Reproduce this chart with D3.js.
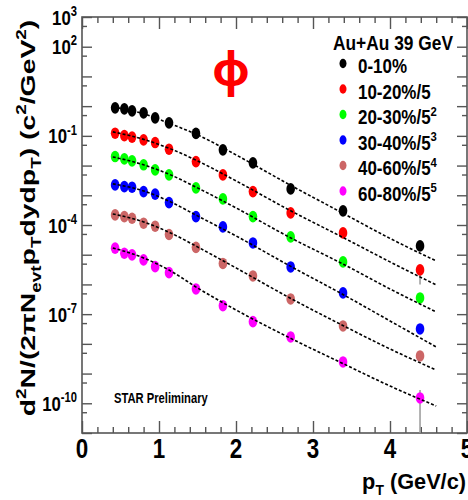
<!DOCTYPE html>
<html><head><meta charset="utf-8">
<script src="https://cdn.jsdelivr.net/npm/d3@7"></script>
<style>body{margin:0;background:#fff} svg{display:block}</style>
</head><body>
<svg id="c" width="468" height="500"></svg>
<script>
// ---- data ----
const pT = [0.43, 0.55, 0.65, 0.80, 0.95, 1.13, 1.48, 1.83, 2.22, 2.71, 3.39, 4.39];
const cent0_10  = [0.877, 0.811, 0.695, 0.594, 0.404, 0.274, 0.121, 0.0338, 0.0123, 1.64e-3, 2.99e-4, 1.98e-5];
const cent10_20 = [0.123, 0.102, 0.0904, 0.0733, 0.0596, 0.0356, 0.0136, 4.86e-3, 1.33e-3, 2.55e-4, 5.42e-5, 3.08e-6];
const cent20_30 = [0.0201, 0.0168, 0.0144, 0.0106, 7.16e-3, 4.86e-3, 1.77e-3, 7.57e-4, 1.92e-4, 3.98e-5, 5.73e-6, 3.51e-7];
const cent30_40 = [2.24e-3, 1.96e-3, 1.87e-3, 1.33e-3, 1.09e-3, 5.68e-4, 1.92e-4, 8.63e-5, 2.49e-5, 3.88e-6, 5.18e-7, 3.18e-8];
const cent40_60 = [2.19e-4, 1.92e-4, 1.69e-4, 1.15e-4, 9.12e-5, 4.79e-5, 1.76e-5, 5.09e-6, 1.93e-6, 3.25e-7, 4.01e-8, 3.92e-9];
const cent60_80 = [1.66e-5, 1.12e-5, 9.84e-6, 6.68e-6, 3.97e-6, 2.49e-6, 7.05e-7, 1.92e-7, 5.58e-8, 1.71e-8, 2.46e-9, 1.51e-10];

// error bars (series index, point index, low, high)
const errSeries = [1, 5, 2];
const errPoint  = [11, 11, 10];
const errLow    = [1.0e-6, 1e-12, 4.0e-6];
const errHigh   = [3.5e-6, 2.8e-10, 6.0e-6];

// fit curves (dashed), log10 of value at fitPt
const fitPt = [0.4, 0.8, 1.15, 1.5, 2.0, 2.7, 3.4, 4.0, 4.6];
const fitExp0_10  = [-0.024, -0.259, -0.596, -0.966, -1.640, -2.650, -3.620, -4.451, -5.209];
const fitExp10_20 = [-0.865, -1.118, -1.438, -1.842, -2.515, -3.508, -4.434, -5.242, -6.017];
const fitExp20_30 = [-1.707, -1.976, -2.313, -2.751, -3.424, -4.418, -5.327, -6.152, -6.926];
const fitExp30_40 = [-2.616, -2.852, -3.222, -3.694, -4.367, -5.377, -6.354, -7.229, -8.104];
const fitExp40_60 = [-3.626, -3.896, -4.266, -4.737, -5.444, -6.455, -7.397, -8.172, -8.879];
const fitExp60_80 = [-4.771, -5.108, -5.545, -6.118, -6.859, -7.801, -8.677, -9.418, -10.091];

const legendLabels = ["0-10%", "10-20%/5", "20-30%/5", "30-40%/5", "40-60%/5", "60-80%/5"];
const legendExps   = ["", "", "2", "3", "4", "5"];
const colors = ["#000000", "#ff0000", "#00ff00", "#0000ff", "#cc6666", "#ff00ff"];

const xTicksMajor = [0, 1, 2, 3, 4, 5];
const xTickLabels = ["0", "1", "2", "3", "4", "5"];
const yTickLabelExps = [3, 2, -1, -4, -7, -10];

// ---- chart ----
const series = [cent0_10, cent10_20, cent20_30, cent30_40, cent40_60, cent60_80];
const fits = [fitExp0_10, fitExp10_20, fitExp20_30, fitExp30_40, fitExp40_60, fitExp60_80];

const FONT = '"Liberation Sans", Arial, Helvetica, sans-serif';
const svg = d3.select("#c");
const L = 82, R = 467, T = 17, B = 433;
const x = d3.scaleLinear().domain([0, 5]).range([L, R]);
const y = d3.scaleLog().domain([1e-11, 1e3]).range([B, T]);

svg.append("defs").append("clipPath").attr("id", "plotclip")
  .append("rect").attr("x", L).attr("y", T).attr("width", R - L).attr("height", B - T);

// ticks
const xMinor = d3.range(0, 5.001, 0.2).filter(v => Math.abs(v - Math.round(v)) > 1e-6);
const yMajor = d3.range(-11, 4).map(e => Math.pow(10, e));
const yMinor = d3.range(-11, 3).map(e => 5 * Math.pow(10, e));
const axisColor = "#555";

function styleAxis(g) {
  g.select(".domain").remove();
  g.selectAll("line").attr("stroke", axisColor).attr("stroke-width", 1.4);
}
svg.append("g").attr("transform", `translate(0,${B})`)
  .call(d3.axisBottom(x).tickValues(xTicksMajor).tickSize(-12).tickFormat("")).call(styleAxis);
svg.append("g").attr("transform", `translate(0,${B})`)
  .call(d3.axisBottom(x).tickValues(xMinor).tickSize(-6).tickFormat("")).call(styleAxis);
svg.append("g").attr("transform", `translate(0,${T})`)
  .call(d3.axisTop(x).tickValues(xTicksMajor).tickSize(-12).tickFormat("")).call(styleAxis);
svg.append("g").attr("transform", `translate(0,${T})`)
  .call(d3.axisTop(x).tickValues(xMinor).tickSize(-6).tickFormat("")).call(styleAxis);
svg.append("g").attr("transform", `translate(${L},0)`)
  .call(d3.axisLeft(y).tickValues(yMajor).tickSize(-10).tickFormat("")).call(styleAxis);
svg.append("g").attr("transform", `translate(${L},0)`)
  .call(d3.axisLeft(y).tickValues(yMinor).tickSize(-5).tickFormat("")).call(styleAxis);
svg.append("g").attr("transform", `translate(${R},0)`)
  .call(d3.axisRight(y).tickValues(yMajor).tickSize(-10).tickFormat("")).call(styleAxis);
svg.append("g").attr("transform", `translate(${R},0)`)
  .call(d3.axisRight(y).tickValues(yMinor).tickSize(-5).tickFormat("")).call(styleAxis);

// frame
svg.append("rect").attr("x", L).attr("y", T).attr("width", R - L).attr("height", B - T)
  .attr("fill", "none").attr("stroke", axisColor).attr("stroke-width", 1.6);

// rich text helper
function rich(textSel, segs, base, small) {
  let shift = 0;
  segs.forEach(([t, kind]) => {
    const target = kind === "sup" ? -0.42 * base : kind === "sub" ? 0.28 * base : 0;
    textSel.append("tspan").attr("dy", target - shift)
      .attr("font-size", kind ? small : base).text(t);
    shift = target;
  });
}
function scaledText(px, py, anchor, size, targetW, extraTransform) {
  const g = svg.append("g");
  const t = g.append("text").attr("text-anchor", anchor).attr("font-family", FONT)
    .attr("font-weight", "bold").attr("font-size", size);
  return {g, t, fit: () => {
    const w = t.node().getBBox().width;
    const s = targetW ? targetW / w : 1;
    g.attr("transform", `translate(${px},${py}) ${extraTransform || ""} scale(${s},1)`);
  }};
}

// x tick labels
xTicksMajor.forEach((v, i) => {
  svg.append("text").attr("transform", `translate(${x(v)},458) scale(0.8,1)`)
    .attr("text-anchor", "middle").attr("font-family", FONT).attr("font-weight", "bold")
    .attr("font-size", 28).text(xTickLabels[i]);
});
// y tick labels
yTickLabelExps.forEach(e => {
  const t = svg.append("text").attr("transform", `translate(77,${y(Math.pow(10, e)) + 7.5}) scale(0.8,1)`)
    .attr("text-anchor", "end").attr("font-family", FONT).attr("font-weight", "bold").attr("font-size", 21);
  rich(t, [["10"], [String(e), "sup"]], 21, 14);
});

// y title
{
  const o = scaledText(35, 218, "middle", 21, 397, "rotate(-90)");
  rich(o.t, [["d"], ["2", "sup"], ["N/(2"], ["π"], ["N"], ["evt", "sub"], ["p"], ["T", "sub"], ["dydp"], ["T", "sub"],
             [") (c"], ["2", "sup"], ["/GeV"], ["2", "sup"], [")"]], 21, 14);
  o.fit();
}
// x title
{
  const o = scaledText(466, 489, "end", 22, 104);
  rich(o.t, [["p"], ["T", "sub"], [" (GeV/c)"]], 22, 14);
  o.fit();
}

// markers
const gData = svg.append("g").attr("clip-path", "url(#plotclip)");
// error bars
errSeries.forEach((s, k) => {
  gData.append("line").attr("x1", x(pT[errPoint[k]])).attr("x2", x(pT[errPoint[k]]))
    .attr("y1", y(errLow[k])).attr("y2", y(errHigh[k]))
    .attr("stroke", "#999").attr("stroke-width", 1.5);
});
series.forEach((vals, s) => {
  gData.selectAll(null).data(vals).enter().append("ellipse")
    .attr("cx", (d, i) => x(pT[i])).attr("cy", d => y(d))
    .attr("rx", 4.3).attr("ry", 5.8).attr("fill", colors[s]);
});
// fit lines
const line = d3.line().x((d, i) => x(fitPt[i])).y(d => y(Math.pow(10, d))).curve(d3.curveMonotoneX);
fits.forEach(f => {
  svg.append("path").attr("d", line(f)).attr("fill", "none").attr("stroke", "#000")
    .attr("stroke-width", 1.6).attr("stroke-dasharray", "3,2");
});

// phi label
svg.append("text").attr("x", 231).attr("y", 86).attr("text-anchor", "middle")
  .attr("font-family", '"Noto Sans", sans-serif').attr("font-weight", "bold")
  .attr("font-size", 46).attr("fill", "#ff0000").text("φ");

// legend
{
  const o = scaledText(333, 50, "start", 21, 120);
  o.t.text("Au+Au 39 GeV");
  o.fit();
}
legendLabels.forEach((lab, i) => {
  const by = 73 + i * 25.5;
  svg.append("ellipse").attr("cx", 343).attr("cy", by - 9.5).attr("rx", 3.5).attr("ry", 4.7).attr("fill", colors[i]);
  const t = svg.append("text").attr("transform", `translate(358,${by}) scale(0.87,1)`)
    .attr("font-family", FONT).attr("font-weight", "bold").attr("font-size", 19.5);
  const segs = [[lab]];
  if (legendExps[i]) segs.push([legendExps[i], "sup"]);
  rich(t, segs, 19.5, 13);
});

// STAR Preliminary
{
  const o = scaledText(114, 403, "start", 14, 94);
  o.t.text("STAR Preliminary");
  o.fit();
}
</script>
</body></html>
